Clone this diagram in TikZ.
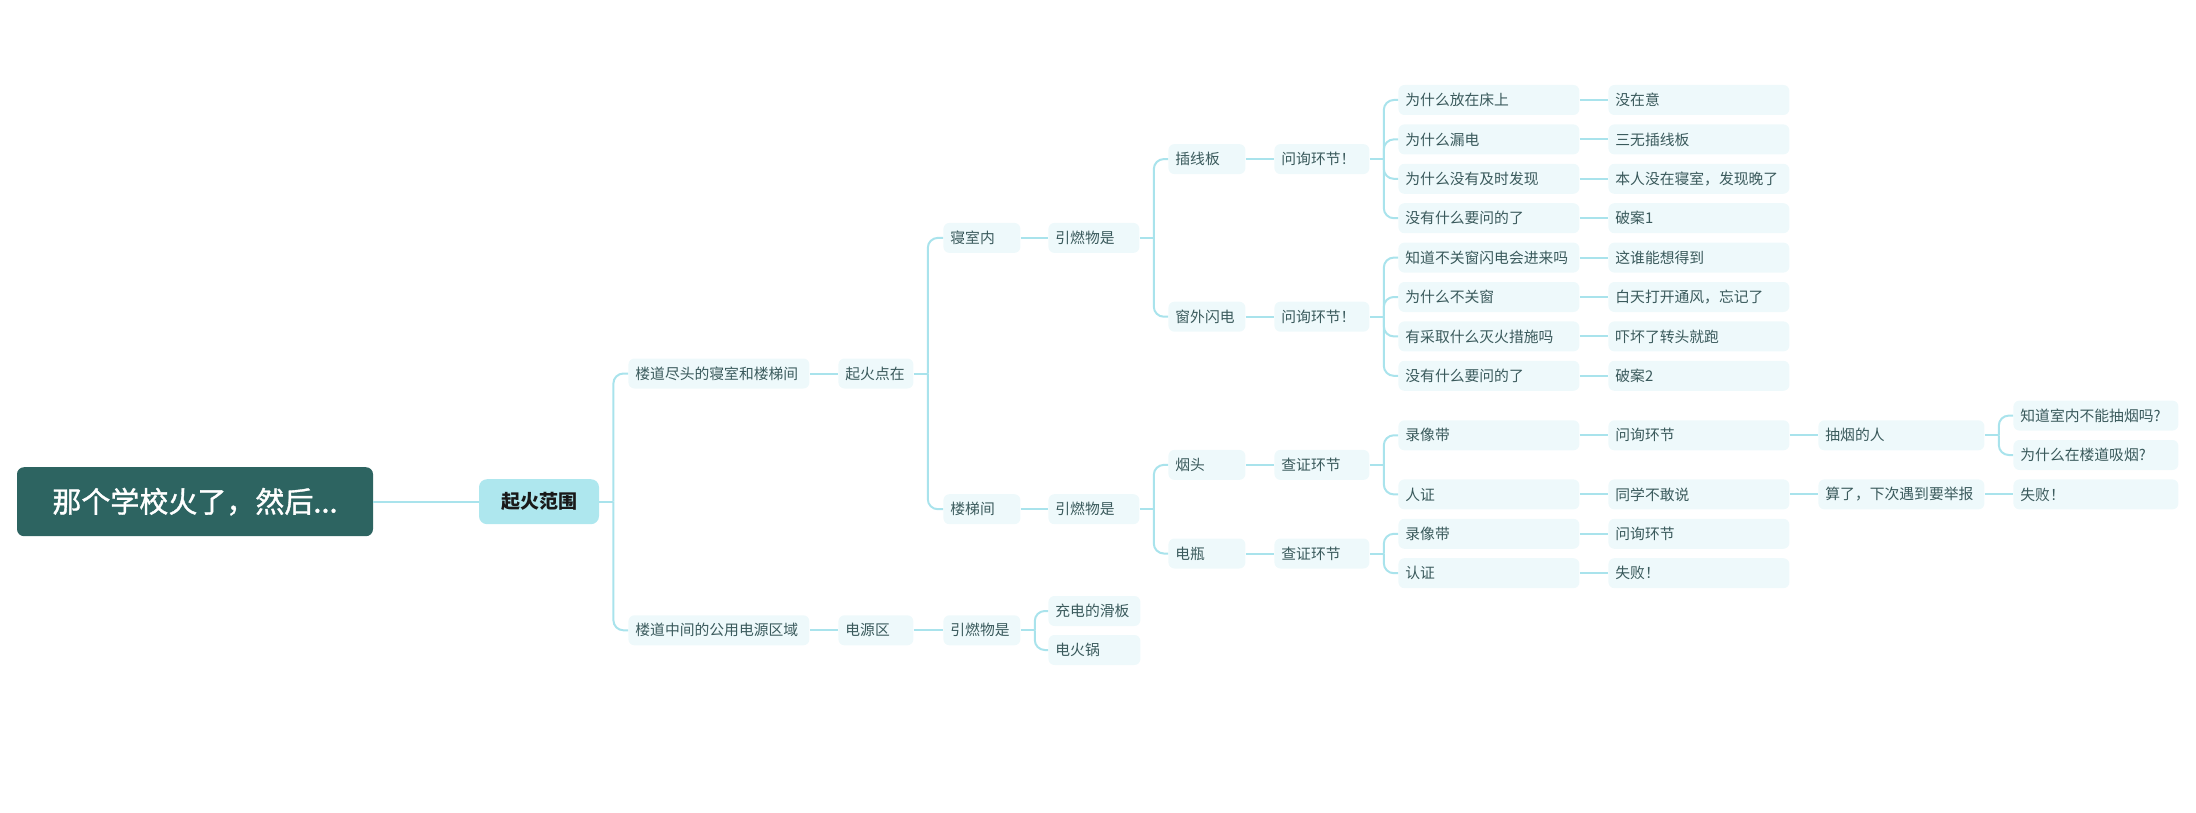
\documentclass[tikz,border=0pt]{standalone}
\usepackage{fontspec}
\setmainfont{Noto Sans CJK SC}
\newfontfamily\rootfont[FakeBold=1.2]{Noto Sans CJK SC}
\definecolor{rootfill}{HTML}{2D6461}
\definecolor{mainfill}{HTML}{AEE7EE}
\definecolor{leaffill}{HTML}{EEF9FB}
\definecolor{leaftext}{HTML}{3A5A5C}
\definecolor{linec}{HTML}{A9E3EC}
\begin{document}
\begin{tikzpicture}[x=0.5pt,y=-0.5pt,
  conn/.style={draw=linec,line width=1pt},
  brk/.style={draw=linec,line width=1pt,rounded corners=5pt},
  rootbox/.style={fill=rootfill,rounded corners=3.5pt,text=white,font=\rootfont\fontsize{14.5pt}{17pt}\selectfont,minimum width=178pt,minimum height=34.5pt,inner sep=0pt},
  mainbox/.style={fill=mainfill,rounded corners=4pt,text=black!90,font=\fontsize{9.5pt}{11pt}\selectfont\bfseries,minimum width=60pt,minimum height=22.5pt,inner sep=0pt},
  leaf/.style={fill=leaffill,rounded corners=3pt,text=leaftext,font=\fontsize{7.4pt}{9pt}\selectfont,anchor=west,minimum height=15pt,inner xsep=3.5pt,inner ysep=0pt,align=left,text width=#1}
]
\useasboundingbox (0,0) rectangle (2196,813);
% root and main
\node[rootbox] (root) at (195,501.7) {那个学校火了，然后...};
\node[mainbox] (qh) at (539,501.7) {起火范围};
% column A
\node[leaf=83.5pt] (a1) at (628,373.5) {楼道尽头的寝室和楼梯间};
\node[leaf=83.5pt] (a2) at (628,630.3) {楼道中间的公用电源区域};
% column B
\node[leaf=30.5pt] (b1) at (838,373.5) {起火点在};
\node[leaf=30.5pt] (b2) at (838,630.3) {电源区};
% column C
\node[leaf=31.5pt] (c1) at (943,237.9) {寝室内};
\node[leaf=31.5pt] (c2) at (943,509.2) {楼梯间};
\node[leaf=31.5pt] (c3) at (943,630.3) {引燃物是};
% column D
\node[leaf=38.5pt] (d1) at (1048,237.9) {引燃物是};
\node[leaf=38.5pt] (d2) at (1048,509.2) {引燃物是};
\node[leaf=39pt] (d3) at (1048,611) {充电的滑板};
\node[leaf=39pt] (d4) at (1048,650) {电火锅};
% column E
\node[leaf=31.5pt] (e1) at (1168,159.1) {插线板};
\node[leaf=31.5pt] (e2) at (1168,316.7) {窗外闪电};
\node[leaf=31.5pt] (e3) at (1168,464.9) {烟头};
\node[leaf=31.5pt] (e4) at (1168,553.5) {电瓶};
% column F
\node[leaf=40.5pt] (f1) at (1274,159.1) {问询环节！};
\node[leaf=40.5pt] (f2) at (1274,316.7) {问询环节！};
\node[leaf=40.5pt] (f3) at (1274,464.9) {查证环节};
\node[leaf=40.5pt] (f4) at (1274,553.5) {查证环节};
% column G
\node[leaf=83.5pt] (g1) at (1398,100) {为什么放在床上};
\node[leaf=83.5pt] (g2) at (1398,139.4) {为什么漏电};
\node[leaf=83.5pt] (g3) at (1398,178.8) {为什么没有及时发现};
\node[leaf=83.5pt] (g4) at (1398,218.2) {没有什么要问的了};
\node[leaf=83.5pt] (g5) at (1398,257.6) {知道不关窗闪电会进来吗};
\node[leaf=83.5pt] (g6) at (1398,297) {为什么不关窗};
\node[leaf=83.5pt] (g7) at (1398,336.4) {有采取什么灭火措施吗};
\node[leaf=83.5pt] (g8) at (1398,375.8) {没有什么要问的了};
\node[leaf=83.5pt] (g9) at (1398,435.3) {录像带};
\node[leaf=83.5pt] (g10) at (1398,494.4) {人证};
\node[leaf=83.5pt] (g11) at (1398,533.8) {录像带};
\node[leaf=83.5pt] (g12) at (1398,573.2) {认证};
% column H
\node[leaf=83.5pt] (h1) at (1608,100) {没在意};
\node[leaf=83.5pt] (h2) at (1608,139.4) {三无插线板};
\node[leaf=83.5pt] (h3) at (1608,178.8) {本人没在寝室，发现晚了};
\node[leaf=83.5pt] (h4) at (1608,218.2) {破案1};
\node[leaf=83.5pt] (h5) at (1608,257.6) {这谁能想得到};
\node[leaf=83.5pt] (h6) at (1608,297) {白天打开通风，忘记了};
\node[leaf=83.5pt] (h7) at (1608,336.4) {吓坏了转头就跑};
\node[leaf=83.5pt] (h8) at (1608,375.8) {破案2};
\node[leaf=83.5pt] (h9) at (1608,435.3) {问询环节};
\node[leaf=83.5pt] (h10) at (1608,494.4) {同学不敢说};
\node[leaf=83.5pt] (h11) at (1608,533.8) {问询环节};
\node[leaf=83.5pt] (h12) at (1608,573.2) {失败！};
% column I
\node[leaf=76pt] (i1) at (1818,435.3) {抽烟的人};
\node[leaf=76pt] (i2) at (1818,494.4) {算了，下次遇到要举报};
% column J
\node[leaf=75.5pt] (j1) at (2013,415.6) {知道室内不能抽烟吗?};
\node[leaf=75.5pt] (j2) at (2013,455) {为什么在楼道吸烟?};
\node[leaf=75.5pt] (j3) at (2013,494.4) {失败！};
% straight connectors
\draw[conn] (root.east) -- (qh.west);
\draw[conn] (a1.east) -- (b1.west);
\draw[conn] (a2.east) -- (b2.west);
\draw[conn] (b2.east) -- (c3.west);
\draw[conn] (c1.east) -- (d1.west);
\draw[conn] (c2.east) -- (d2.west);
\draw[conn] (e1.east) -- (f1.west);
\draw[conn] (e2.east) -- (f2.west);
\draw[conn] (e3.east) -- (f3.west);
\draw[conn] (e4.east) -- (f4.west);
\foreach \k in {1,...,12} {\draw[conn] (g\k.east) -- (h\k.west);}
\draw[conn] (h9.east) -- (i1.west);
\draw[conn] (h10.east) -- (i2.west);
\draw[conn] (i2.east) -- (j3.west);
% brackets
\draw[conn] (qh.east) -- ++(14,0) coordinate (k0);
\draw[brk] (k0) |- (a1.west);
\draw[brk] (k0) |- (a2.west);
\draw[conn] (b1.east) -- ++(14,0) coordinate (k1);
\draw[brk] (k1) |- (c1.west);
\draw[brk] (k1) |- (c2.west);
\draw[conn] (d1.east) -- ++(14,0) coordinate (k2);
\draw[brk] (k2) |- (e1.west);
\draw[brk] (k2) |- (e2.west);
\draw[conn] (d2.east) -- ++(14,0) coordinate (k3);
\draw[brk] (k3) |- (e3.west);
\draw[brk] (k3) |- (e4.west);
\draw[conn] (c3.east) -- ++(14,0) coordinate (k4);
\draw[brk] (k4) |- (d3.west);
\draw[brk] (k4) |- (d4.west);
\draw[conn] (f1.east) -- ++(14,0) coordinate (k5);
\foreach \k in {1,...,4} {\draw[brk] (k5) |- (g\k.west);}
\draw[conn] (f2.east) -- ++(14,0) coordinate (k6);
\foreach \k in {5,...,8} {\draw[brk] (k6) |- (g\k.west);}
\draw[conn] (f3.east) -- ++(14,0) coordinate (k7);
\draw[brk] (k7) |- (g9.west);
\draw[brk] (k7) |- (g10.west);
\draw[conn] (f4.east) -- ++(14,0) coordinate (k8);
\draw[brk] (k8) |- (g11.west);
\draw[brk] (k8) |- (g12.west);
\draw[conn] (i1.east) -- ++(14,0) coordinate (k9);
\draw[brk] (k9) |- (j1.west);
\draw[brk] (k9) |- (j2.west);
\end{tikzpicture}
\end{document}
